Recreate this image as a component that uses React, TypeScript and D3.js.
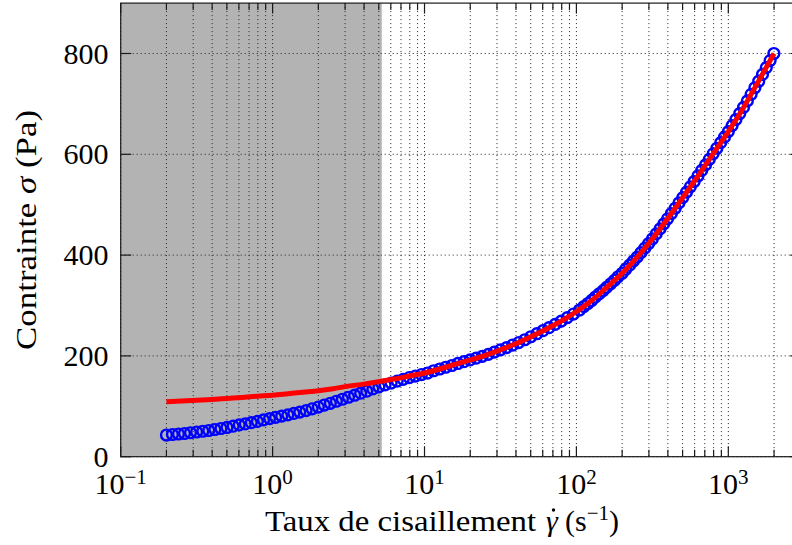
import React from 'react';
import * as d3 from 'd3';

const W = 792;
const H = 545;

// axis settings
const X_DOMAIN: [number, number] = [0.1, 3000];
const Y_DOMAIN: [number, number] = [0, 900];
const X_MAJOR = [0.1, 1, 10, 100, 1000];
const X_MAJOR_EXP = ['−1', '0', '1', '2', '3'];
const Y_TICKS = [0, 200, 400, 600, 800];
const SHADE_RANGE = [0.1, 5.23];

// measured data (shear rate, stress)
const blueRate = [
  0.2, 0.219, 0.24, 0.263, 0.288, 0.316, 0.347, 0.38, 0.417, 0.457, 0.501, 0.55, 0.603, 0.661, 0.724, 0.794,
  0.871, 0.955, 1.047, 1.148, 1.26, 1.38, 1.51, 1.66, 1.82, 2.0, 2.19, 2.4, 2.63, 2.88, 3.16, 3.47, 3.8, 4.17,
  4.57, 5.01, 5.5, 6.03, 6.61, 7.24, 7.94, 8.71, 9.55, 10.47,
  11.48, 12.59, 13.8, 15.14, 16.6, 18.2, 19.95, 21.88, 23.99, 26.3, 28.84, 31.62, 34.67, 38.02, 41.69, 45.71,
  50.12, 54.95, 60.26, 66.07, 72.44, 79.43, 87.1, 95.5, 104.7,
  112, 119, 126, 133, 141, 150, 158, 168, 178, 188, 200, 211, 224, 237, 251, 266, 282, 299, 316, 335, 355, 376,
  398, 422, 447, 473, 501, 531, 562, 596, 631, 668, 708, 750, 794, 841, 891, 944, 1000, 1059, 1122, 1189, 1259,
  1334, 1413, 1496, 1585, 1679, 1778, 1884, 1995,
];
const blueStress = [
  43, 44, 45, 46, 47.5, 49, 50.5, 52, 54, 56, 58, 60.5, 63, 65, 67.5, 70,
  73, 75.5, 78, 80.5, 83, 85.8, 88.5, 91.5, 95, 98.5, 102.5, 106, 110, 114, 118, 122, 126, 130,
  134.5, 138.5, 142.5, 146, 150, 153.5, 157, 160, 163, 166,
  170.5, 174, 177.5, 181, 185, 188.5, 192, 195.5, 199, 203, 207.5, 212, 216.5, 221.5, 226.5, 232,
  238, 244, 250, 256, 262.5, 269, 276, 283, 291,
  298, 304, 310, 316.5, 323, 329.5, 336, 343, 350, 357, 364, 372, 380, 388, 396, 405, 414, 423, 432, 442, 452, 462,
  472, 482.5, 493, 503.5, 514, 525, 535.5, 546, 557, 568, 579, 590, 601, 612, 623, 634, 645, 657, 669, 681, 693,
  706, 719, 732, 745, 758.5, 772, 786, 800,
];

// fitted model curve
const fitRate = [
  0.2, 0.251, 0.316, 0.398, 0.501, 0.631, 0.794, 1, 1.26, 1.58, 2, 2.51, 3.16, 3.98, 5.01, 6.31, 7.94,
  10, 12.6, 15.8, 20, 25.1, 31.6, 39.8, 50.1, 63.1, 79.4, 100, 126, 158, 200, 251, 316, 398, 501, 631, 794,
  1000, 1260, 1580, 2000,
];
const fitStress = [
  109, 110.5, 112, 113.5, 115.5, 117.5, 120, 122, 125, 128, 131, 135, 140, 144, 149, 154, 160,
  166, 174, 183, 192, 201, 212, 224, 238, 253, 269, 288, 310, 336, 364, 396, 432, 472, 514, 557, 601,
  645, 693, 745, 800,
];

const FONT = '"Liberation Serif", "DejaVu Serif", serif';

export default function App() {
  const left = 120.7;
  const right = 800.8;
  const top = 3.1;
  const bottom = 456.7;

  const x = d3.scaleLog().domain(X_DOMAIN).range([left, right]);
  const y = d3.scaleLinear().domain(Y_DOMAIN).range([bottom, top]);

  const allX = x.ticks().filter((t) => t >= X_DOMAIN[0] && t <= X_DOMAIN[1]);
  const isMajor = (t: number) => X_MAJOR.some((m) => Math.abs(m - t) / m < 1e-6);
  const minorX = allX.filter((t) => !isMajor(t));

  const line = d3
    .line<number>()
    .x((_, i) => x(fitRate[i]))
    .y((d) => y(d))
    .curve(d3.curveMonotoneX);

  const gridColor = '#222';
  const majorLen = 10.5;
  const minorLen = 7;

  return (
    <svg
      width={W}
      height={H}
      style={{ position: 'absolute', left: 0, top: 0, background: '#fff' }}
      fontFamily={FONT}
    >
      <defs>
        <clipPath id="plotclip">
          <rect x={left} y={top} width={right - left} height={bottom - top} />
        </clipPath>
      </defs>
      {/* shaded region */}
      <rect
        x={x(SHADE_RANGE[0])}
        y={top}
        width={x(SHADE_RANGE[1]) - x(SHADE_RANGE[0])}
        height={bottom - top}
        fill="#b3b3b3"
      />
      {/* grid */}
      <g stroke={gridColor} strokeWidth={1} strokeDasharray="1,3" fill="none">
        {allX.map((t, i) => (
          <line key={'gx' + i} x1={x(t)} x2={x(t)} y1={top} y2={bottom} />
        ))}
        {Y_TICKS.map((t, i) => (
          <line key={'gy' + i} x1={left} x2={right} y1={y(t)} y2={y(t)} />
        ))}
      </g>
      <g clipPath="url(#plotclip)">
        {/* data markers */}
        <g fill="none" stroke="#0000ff" strokeWidth={2.4}>
          {blueRate.map((r, i) => (
            <circle key={'b' + i} cx={x(r)} cy={y(blueStress[i])} r={5.4} />
          ))}
        </g>
        {/* fit */}
        <path d={line(fitStress) || ''} fill="none" stroke="#ff0000" strokeWidth={5} />
      </g>
      {/* axes box */}
      <g stroke="#1a1a1a" strokeWidth={1.2} fill="none">
        <rect x={left} y={top} width={right - left} height={bottom - top} />
        {X_MAJOR.map((t, i) => (
          <g key={'tx' + i}>
            <line x1={x(t)} x2={x(t)} y1={bottom} y2={bottom - majorLen} />
            <line x1={x(t)} x2={x(t)} y1={top} y2={top + majorLen} />
          </g>
        ))}
        {minorX.map((t, i) => (
          <g key={'mx' + i}>
            <line x1={x(t)} x2={x(t)} y1={bottom} y2={bottom - minorLen} />
            <line x1={x(t)} x2={x(t)} y1={top} y2={top + minorLen} />
          </g>
        ))}
        {Y_TICKS.map((t, i) => (
          <g key={'ty' + i}>
            <line x1={left} x2={left + majorLen} y1={y(t)} y2={y(t)} />
            <line x1={right} x2={right - majorLen} y1={y(t)} y2={y(t)} />
          </g>
        ))}
      </g>
      {/* tick labels */}
      <g fill="#000" fontSize={30}>
        {Y_TICKS.map((t, i) => (
          <text key={'ly' + i} x={108.5} y={y(t) + 10} textAnchor="end">
            {t}
          </text>
        ))}
        {X_MAJOR.map((t, i) => (
          <text key={'lx' + i} x={x(t)} y={493.5} textAnchor="middle">
            10
            <tspan dy={-10} fontSize={21}>
              {X_MAJOR_EXP[i]}
            </tspan>
          </text>
        ))}
      </g>
      {/* x axis label */}
      <g fill="#000" fontSize={30}>
        <text x={265} y={531} textLength={271} lengthAdjust="spacingAndGlyphs">
          Taux de cisaillement
        </text>
        <text x={552} y={531} textAnchor="middle" fontStyle="italic">
          γ
        </text>
        <circle cx={553.5} cy={510} r={1.7} />
        <text x={565} y={531}>
          (s
          <tspan dy={-11} fontSize={21}>
            −1
          </tspan>
          <tspan dy={11}>)</tspan>
        </text>
      </g>
      {/* y axis label */}
      <text
        transform={`translate(36, ${(top + bottom) / 2}) rotate(-90)`}
        textAnchor="middle"
        fontSize={30}
        fill="#000"
        textLength={240}
        lengthAdjust="spacingAndGlyphs"
      >
        Contrainte <tspan fontStyle="italic">σ</tspan> (Pa)
      </text>
    </svg>
  );
}
